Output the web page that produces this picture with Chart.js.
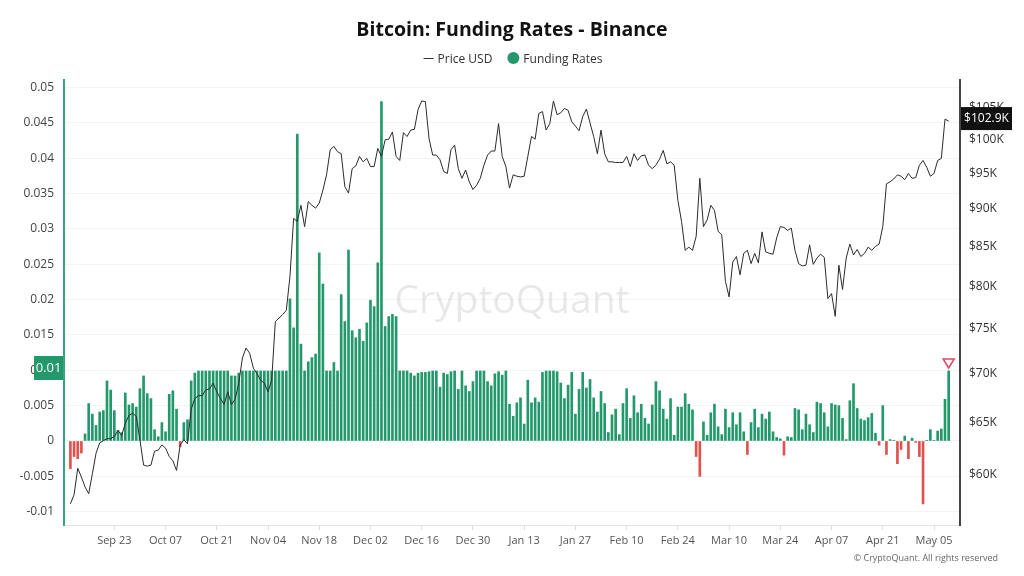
<!DOCTYPE html>
<html>
<head>
<meta charset="utf-8">
<title>Bitcoin: Funding Rates - Binance</title>
<script src="https://cdn.jsdelivr.net/npm/chart.js@4.4.1/dist/chart.umd.min.js"></script>
<style>
  html, body { margin: 0; padding: 0; background: #fff; }
  canvas { display: block; }
</style>
</head>
<body>
<canvas id="chart" width="1024" height="576"></canvas>
<script>
// one value per day, starting here
const startDate = '2024-09-11';

const fundingRates = [
  -0.0039, -0.0022, -0.0025, -0.0017, 0.0010, 0.0053, 0.0038, 0.0022, 0.0041, 0.0043,
  0.0085, 0.0072, 0.0043, 0.0015, 0.0012, 0.0068, 0.0051, 0.0053, 0.0048, 0.0074,
  0.0092, 0.0067, 0.0060, 0.0016, 0.0006, 0.0026, 0.0013, 0.0066, 0.0071, 0.0045,
  -0.0008, 0.0026, 0.0030, 0.0085, 0.0096, 0.0099, 0.0099, 0.0099, 0.0099, 0.0099,
  0.0099, 0.0099, 0.0099, 0.0099, 0.0092, 0.0092, 0.0096, 0.0099, 0.0099, 0.0099,
  0.0099, 0.0099, 0.0099, 0.0099, 0.0099, 0.0099, 0.0099, 0.0099, 0.0099, 0.0099,
  0.0201, 0.0160, 0.0434, 0.0137, 0.0099, 0.0112, 0.0118, 0.0123, 0.0266, 0.0222,
  0.0099, 0.0099, 0.0111, 0.0099, 0.0207, 0.0169, 0.0270, 0.0156, 0.0146, 0.0158,
  0.0141, 0.0167, 0.0199, 0.0190, 0.0252, 0.0480, 0.0162, 0.0176, 0.0179, 0.0176,
  0.0099, 0.0099, 0.0099, 0.0096, 0.0092, 0.0096, 0.0097, 0.0097, 0.0098, 0.0099,
  0.0099, 0.0076, 0.0096, 0.0094, 0.0098, 0.0099, 0.0073, 0.0099, 0.0078, 0.0070,
  0.0084, 0.0099, 0.0099, 0.0099, 0.0084, 0.0078, 0.0095, 0.0098, 0.0093, 0.0099,
  0.0052, 0.0035, 0.0054, 0.0061, 0.0024, 0.0086, 0.0054, 0.0061, 0.0055, 0.0097,
  0.0099, 0.0099, 0.0099, 0.0098, 0.0082, 0.0060, 0.0079, 0.0097, 0.0038, 0.0073,
  0.0097, 0.0075, 0.0087, 0.0061, 0.0041, 0.0070, 0.0053, 0.0012, 0.0037, 0.0045,
  0.0009, 0.0053, 0.0074, 0.0032, 0.0064, 0.0040, 0.0052, 0.0032, 0.0024, 0.0051,
  0.0084, 0.0071, 0.0045, 0.0031, 0.0060, 0.0008, 0.0048, 0.0048, 0.0067, 0.0052,
  0.0044, -0.0022, -0.0050, 0.0027, 0.0008, 0.0040, 0.0052, 0.0020, 0.0009, 0.0045,
  0.0019, 0.0040, 0.0023, 0.0040, 0.0013, -0.0019, 0.0026, 0.0045, 0.0019, 0.0038,
  0.0031, 0.0041, 0.0013, 0.0005, 0.0003, -0.0020, 0.0006, 0.0005, 0.0046, 0.0044,
  0.0016, 0.0038, 0.0023, 0.0012, 0.0055, 0.0053, 0.0040, 0.0020, 0.0053, 0.0051,
  0.0050, 0.0032, 0.0002, 0.0057, 0.0081, 0.0046, 0.0031, 0.0029, 0.0033, 0.0039,
  0.0011, -0.0006, 0.0050, -0.0019, 0.0002, 0.0001, -0.0032, -0.0012, 0.0007, -0.0025,
  0.0004, -0.0002, -0.0022, -0.0089, 0.0001, 0.0016, 0.0001, 0.0014, 0.0017, 0.0059,
  0.0099
];

// BTC price in thousands of USD
const priceUsdK = [
  57.4, 58.2, 60.6, 59.8, 58.9, 58.3, 60.1, 62.0, 63.0, 63.2,
  63.4, 63.4, 63.6, 64.2, 63.7, 64.9, 65.7, 65.9, 65.6, 63.3,
  60.9, 60.8, 60.9, 62.2, 62.3, 62.8, 62.5, 61.7, 61.3, 60.4,
  62.8, 63.3, 62.9, 66.3, 67.4, 67.7, 67.7, 68.3, 68.4, 69.0,
  68.1, 67.4, 66.8, 68.1, 66.8, 67.3, 69.0, 71.7, 72.8, 72.2,
  70.6, 70.0, 69.3, 69.0, 68.1, 69.3, 75.8, 76.2, 76.6, 77.1,
  81.2, 88.7, 88.3, 90.5, 87.6, 91.0, 90.5, 90.1, 90.8, 92.6,
  94.8, 98.5, 99.0, 98.2, 97.9, 93.1, 92.2, 95.7, 96.1, 97.5,
  96.7, 97.2, 96.0, 96.0, 98.7, 97.5, 100.0, 100.1, 101.2, 97.5,
  96.9, 101.1, 100.5, 101.5, 101.6, 104.7, 106.1, 106.0, 100.2, 97.7,
  97.7, 97.0, 95.3, 95.0, 98.5, 99.2, 95.7, 94.3, 95.5, 93.8,
  92.7, 93.3, 94.3, 96.2, 97.7, 98.3, 98.3, 102.5, 97.5, 96.0,
  92.9, 94.8, 94.6, 94.5, 94.6, 97.5, 100.5, 100.1, 104.1, 104.4,
  101.5, 102.5, 106.1, 103.9, 104.2, 104.9, 104.6, 102.8, 102.1, 101.4,
  103.6, 104.8, 102.6, 100.5, 97.9, 101.5, 97.9, 96.7, 96.7, 96.6,
  96.6, 96.6, 97.5, 96.0, 97.9, 96.9, 97.6, 97.7, 96.2, 95.7,
  96.2, 97.1, 98.4, 96.4, 96.7, 96.2, 91.2, 88.3, 84.5, 84.9,
  84.5, 86.3, 94.3, 87.6, 88.5, 90.5, 89.8, 87.0, 86.5, 80.6,
  78.7, 83.0, 83.7, 81.4, 84.1, 84.5, 82.8, 84.1, 82.9, 86.9,
  84.3, 84.1, 84.0, 86.1, 87.6, 87.5, 87.1, 87.4, 84.5, 82.8,
  82.5, 82.6, 85.2, 82.7, 83.5, 84.0, 83.6, 78.5, 79.1, 76.4,
  82.6, 79.6, 83.5, 85.3, 83.9, 84.6, 83.7, 84.1, 84.9, 84.5,
  85.0, 85.3, 87.6, 93.5, 93.8, 94.2, 94.8, 94.6, 94.1, 95.0,
  94.3, 94.4, 96.2, 96.9, 95.9, 94.6, 95.0, 96.9, 97.2, 103.2,
  102.9
];

const tickDates = [
  '2024-09-23', '2024-10-07', '2024-10-21', '2024-11-04', '2024-11-18', '2024-12-02',
  '2024-12-16', '2024-12-30', '2025-01-13', '2025-01-27', '2025-02-10', '2025-02-24',
  '2025-03-10', '2025-03-24', '2025-04-07', '2025-04-21', '2025-05-05'
];
const tickLabels = [
  'Sep 23', 'Oct 07', 'Oct 21', 'Nov 04', 'Nov 18', 'Dec 02',
  'Dec 16', 'Dec 30', 'Jan 13', 'Jan 27', 'Feb 10', 'Feb 24',
  'Mar 10', 'Mar 24', 'Apr 07', 'Apr 21', 'May 05'
];
const fundingTicks = [-0.01, -0.005, 0, 0.005, 0.01, 0.015, 0.02, 0.025, 0.03, 0.035, 0.04, 0.045, 0.05];
const priceTicks = [60, 65, 70, 75, 80, 85, 90, 95, 100, 105];

const FONT = '"Open Sans", "Noto Sans", sans-serif';
const GREEN = '#23996b';
const RED = '#e0524e';

function dayIndex(s) {
  return Math.round((Date.parse(s) - Date.parse(startDate)) / 864e5);
}

const overlay = {
  id: 'overlay',
  beforeDatasetsDraw(chart) {
    const { ctx, chartArea: a } = chart;
    ctx.save();
    ctx.font = '500 39px ' + FONT;
    ctx.fillStyle = 'rgba(0, 0, 0, 0.09)';
    ctx.textAlign = 'center';
    ctx.textBaseline = 'middle';
    ctx.fillText('CryptoQuant', (a.left + a.right) / 2, (a.top + a.bottom) / 2 - 1);
    ctx.restore();
  },
  afterDraw(chart) {
    const { ctx, chartArea: a, scales } = chart;
    const [priceSet, fundSet] = chart.data.datasets;
    ctx.save();
    ctx.textBaseline = 'middle';

    // title
    ctx.font = 'bold 19.5px ' + FONT;
    ctx.fillStyle = '#111';
    ctx.textAlign = 'center';
    ctx.fillText('Bitcoin: Funding Rates - Binance', 512, 30);

    // legend
    ctx.font = '12px ' + FONT;
    ctx.textAlign = 'left';
    const w1 = ctx.measureText(priceSet.label).width;
    const w2 = ctx.measureText(fundSet.label).width;
    let x = 513 - (10 + 4 + w1 + 15 + 12 + 4 + w2) / 2;
    const ly = 59.5;
    ctx.strokeStyle = '#333';
    ctx.lineWidth = 1;
    ctx.beginPath();
    ctx.moveTo(x, ly - 1);
    ctx.lineTo(x + 10, ly - 1);
    ctx.stroke();
    ctx.fillStyle = '#333';
    ctx.fillText(priceSet.label, x + 14, ly);
    x += 14 + w1 + 15;
    ctx.fillStyle = GREEN;
    ctx.beginPath();
    ctx.arc(x + 6, ly - 1.5, 6, 0, Math.PI * 2);
    ctx.fill();
    ctx.fillStyle = '#333';
    ctx.fillText(fundSet.label, x + 16, ly);

    // copyright
    ctx.font = '9px ' + FONT;
    ctx.fillStyle = '#666';
    ctx.textAlign = 'right';
    ctx.fillText('\u00A9 CryptoQuant. All rights reserved', 998, 558);

    // latest values on both axes
    const last = fundingRates.length - 1;
    const lastF = fundingRates[last];
    const yF = scales.y.getPixelForValue(lastF);
    ctx.fillStyle = GREEN;
    ctx.fillRect(34, yF - 15, a.left - 35, 24);
    ctx.fillStyle = '#fff';
    ctx.font = '13px ' + FONT;
    ctx.textAlign = 'center';
    ctx.fillText(String(+lastF.toFixed(2)), (34 + a.left - 1) / 2, yF - 3);

    const lastP = priceUsdK[last];
    const yP = scales.y1.getPixelForValue(lastP);
    ctx.fillStyle = '#111';
    ctx.fillRect(a.right + 1, yP - 14, 51, 23);
    ctx.fillStyle = '#fff';
    ctx.font = '12px ' + FONT;
    ctx.fillText('$' + lastP.toFixed(1) + 'K', a.right + 26.5, yP - 2.5);

    // marker above the latest bar
    const xL = scales.x.getPixelForValue(last);
    const tip = yF - 3;
    ctx.strokeStyle = '#d94a63';
    ctx.lineWidth = 1.5;
    ctx.beginPath();
    ctx.moveTo(xL, tip);
    ctx.lineTo(xL - 5.5, tip - 9);
    ctx.lineTo(xL + 5.5, tip - 9);
    ctx.closePath();
    ctx.stroke();
    ctx.restore();
  }
};

Chart.defaults.font.family = FONT;

new Chart(document.getElementById('chart'), {
  type: 'bar',
  data: {
    datasets: [
      {
        type: 'line',
        label: 'Price USD',
        data: priceUsdK.map((v, i) => ({ x: i, y: v })),
        yAxisID: 'y1',
        borderColor: '#2b2b2b',
        borderWidth: 1,
        pointRadius: 0,
        tension: 0,
        order: 0
      },
      {
        type: 'bar',
        label: 'Funding Rates',
        data: fundingRates.map((v, i) => ({ x: i, y: v })),
        yAxisID: 'y',
        backgroundColor: ctx => (ctx.raw && ctx.raw.y < 0 ? RED : GREEN),
        barThickness: 2,
        order: 1
      }
    ]
  },
  options: {
    responsive: false,
    animation: false,
    layout: { padding: { top: 80, bottom: 21, left: 0, right: 0 } },
    plugins: {
      legend: { display: false },
      title: { display: false },
      tooltip: { enabled: false }
    },
    scales: {
      x: {
        type: 'linear',
        offset: false,
        min: -1.75,
        max: 243.1,
        afterBuildTicks: s => { s.ticks = tickDates.map(d => ({ value: dayIndex(d) })); },
        afterFit: s => { s.height = 30; },
        grid: { offset: false, drawOnChartArea: false, drawTicks: true, tickLength: 5, color: '#dcdcdc' },
        border: { color: '#e3e3e3', width: 1 },
        ticks: {
          callback: (v, i) => tickLabels[i],
          color: '#555',
          font: { size: 11 },
          padding: 4,
          maxRotation: 0,
          autoSkip: false
        }
      },
      y: {
        type: 'linear',
        position: 'left',
        min: -0.01188,
        max: 0.05105,
        afterBuildTicks: s => { s.ticks = fundingTicks.map(v => ({ value: v })); },
        afterFit: s => { s.width = 64; },
        grid: { color: 'rgba(0, 0, 0, 0.045)', drawTicks: false },
        border: { color: '#3aa57b', width: 2 },
        ticks: {
          callback: v => String(+v.toFixed(3)),
          color: '#444',
          font: { size: 12 },
          padding: 10
        }
      },
      y1: {
        type: 'logarithmic',
        position: 'right',
        min: 55.58,
        max: 109.55,
        afterBuildTicks: s => { s.ticks = priceTicks.map(v => ({ value: v })); },
        afterFit: s => { s.width = 64; },
        grid: { drawOnChartArea: false, drawTicks: false },
        border: { color: '#444', width: 2 },
        ticks: {
          callback: v => '$' + v + 'K',
          color: '#333',
          font: { size: 12 },
          padding: 9
        }
      }
    }
  },
  plugins: [overlay]
});
</script>
</body>
</html>
